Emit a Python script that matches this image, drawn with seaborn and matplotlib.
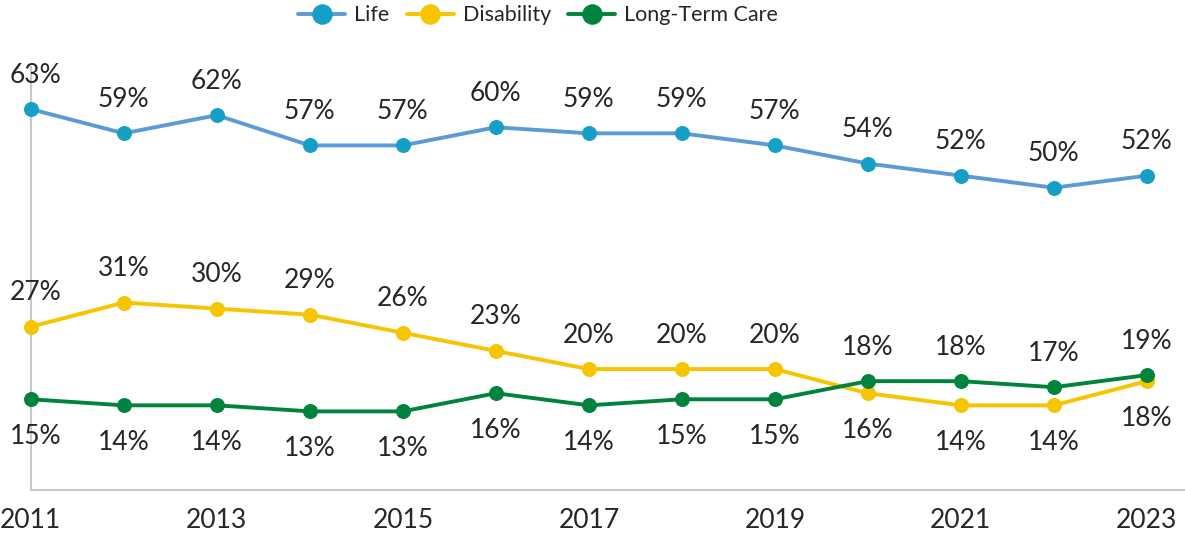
import matplotlib.pyplot as plt
import pandas as pd
import seaborn as sns

# Data
years = [2011, 2012, 2013, 2014, 2015, 2016, 2017, 2018, 2019, 2020, 2021, 2022, 2023]
life = [63, 59, 62, 57, 57, 60, 59, 59, 57, 54, 52, 50, 52]
disability = [27, 31, 30, 29, 26, 23, 20, 20, 20, 16, 14, 14, 18]
ltc = [15, 14, 14, 13, 13, 16, 14, 15, 15, 18, 18, 17, 19]
tick_years = [2011, 2013, 2015, 2017, 2019, 2021, 2023]

sns.set_style("white")
plt.rcParams["font.family"] = ["Lato", "DejaVu Sans"]

df = pd.DataFrame({"year": years, "Life": life, "Disability": disability,
                   "Long-Term Care": ltc})

fig = plt.figure(figsize=(11.85, 5.39), dpi=100)
ax = fig.add_axes([0.026, 0.091, 0.974, 0.785])

styles = {
    "Life": dict(color="#5B9BD5", markerfacecolor="#169FC6", markeredgecolor="#169FC6"),
    "Disability": dict(color="#F7C400", markerfacecolor="#F7C400", markeredgecolor="#F7C400"),
    "Long-Term Care": dict(color="#00843D", markerfacecolor="#00843D", markeredgecolor="#00843D"),
}
for name, st in styles.items():
    sns.lineplot(data=df, x="year", y=name, ax=ax, marker="o", markersize=10,
                 linewidth=2.8, label=name, clip_on=False, zorder=3, **st)

# value labels: Life above; of Disability / LTC the higher one above
fs = 19
for i, yr in enumerate(years):
    dx = 5 if yr == years[0] else 0
    ax.annotate(f"{life[i]}%", (yr, life[i]), xytext=(dx, 34),
                textcoords="offset pixels", ha="center", va="center", fontsize=fs)
    d_up = disability[i] > ltc[i]
    ax.annotate(f"{disability[i]}%", (yr, disability[i]),
                xytext=(dx, 34 if d_up else -37), textcoords="offset pixels",
                ha="center", va="center", fontsize=fs)
    ax.annotate(f"{ltc[i]}%", (yr, ltc[i]),
                xytext=(dx, -37 if d_up else 34), textcoords="offset pixels",
                ha="center", va="center", fontsize=fs)

ax.set(xlim=(2011, 2023.41), ylim=(0, 70), xlabel="", ylabel="")
ax.set_xticks(tick_years)
ax.set_xticklabels([str(y) for y in tick_years])
ax.set_yticks([])
ax.tick_params(axis="x", length=0, pad=13, labelsize=fs)
for s in ["top", "right"]:
    ax.spines[s].set_visible(False)
for s in ["left", "bottom"]:
    ax.spines[s].set_color("#C8C8C8")
    ax.spines[s].set_linewidth(1.5)

ax.legend(loc="center", bbox_to_anchor=(0.454, 0.972), bbox_transform=fig.transFigure,
          ncol=3, frameon=False, fontsize=15.5, handlelength=2.2, columnspacing=0.8,
          handletextpad=0.4, markerscale=1.4)

plt.savefig("out.png", dpi=100)
